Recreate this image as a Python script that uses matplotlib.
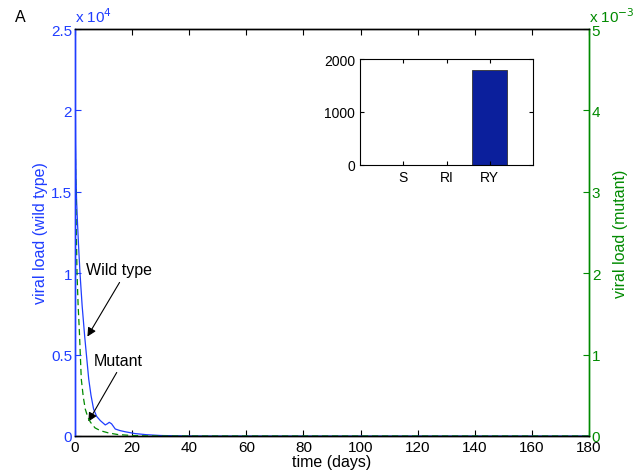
import matplotlib
matplotlib.use("Agg")
import matplotlib.pyplot as plt

plt.rcParams['font.family'] = ['Liberation Sans', 'DejaVu Sans']

# Wild type viral load (units of 1e4)
t_wild = [0, 0.1, 0.2, 0.35, 0.55, 0.9, 1.3, 1.75, 2.5, 3.4, 4.8, 5.6, 6.5, 7.6, 8.9, 10.6, 11.3, 12, 12.8, 14.1, 15.8, 17.6, 21, 25, 30, 35, 40, 50, 60, 180]
v_wild = [2.5, 2.1, 1.8, 1.6, 1.45, 1.3, 1.15, 1.0, 0.8, 0.61, 0.35, 0.25, 0.166, 0.12, 0.094, 0.068, 0.075, 0.084, 0.075, 0.043, 0.033, 0.026, 0.015, 0.008, 0.003, 0.0015, 0.0005, 0.0001, 0.0, 0.0]

# Mutant viral load (units of 1e-3)
t_mut = [0, 0.05, 0.1, 0.2, 0.3, 0.45, 0.7, 1.1, 1.5, 2.2, 2.9, 3.6, 4.5, 5.4, 7, 8.9, 11.8, 15, 20, 25, 30, 180]
v_mut = [5.0, 4.3, 3.7, 3.2, 2.85, 2.54, 2.01, 1.6, 1.31, 0.70, 0.48, 0.33, 0.23, 0.17, 0.1, 0.065, 0.037, 0.018, 0.006, 0.002, 0.0, 0.0]

# Inset bar chart
bar_labels = ['S', 'RI', 'RY']
bar_values = [8, 8, 1800]

x_ticks = [0, 20, 40, 60, 80, 100, 120, 140, 160, 180]
left_ticks = [0, 0.5, 1, 1.5, 2, 2.5]
right_ticks = [0, 1, 2, 3, 4, 5]

BLUE = '#1f3dff'
GREEN = '#008a00'
BARC = '#0b1f9c'
FS = 11
FL = 11.5

fig = plt.figure(figsize=(6.36, 4.77), dpi=100)
ax = fig.add_axes([75/636, 40/477, 514/636, 407/477])
ax2 = ax.twinx()

ax.plot(t_wild, v_wild, color=BLUE, lw=0.9)
ax2.plot(t_mut, v_mut, color=GREEN, lw=0.9, ls=(0, (5, 3)))

ax.set_xlim(0, 180)
ax.set_ylim(0, 2.5)
ax2.set_ylim(0, 5)
ax.set_xticks(x_ticks)
ax.set_yticks(left_ticks)
ax.set_yticklabels(['0', '0.5', '1', '1.5', '2', '2.5'])
ax2.set_yticks(right_ticks)

ax.tick_params(axis='x', direction='in', top=True, length=4, labelsize=FS, colors='black', pad=3)
ax.tick_params(axis='y', direction='in', length=4, labelsize=FS, colors=BLUE, pad=2)
ax2.tick_params(axis='y', direction='in', length=4, labelsize=FS, colors=GREEN, pad=2)

for a in (ax, ax2):
    a.spines['left'].set_color(BLUE)
    a.spines['right'].set_color(GREEN)
    a.spines['top'].set_color('black')
    a.spines['bottom'].set_color('black')
    for s in a.spines.values():
        s.set_linewidth(1.0)

ax.set_xlabel('time (days)', fontsize=FL, labelpad=0)
ax.set_ylabel('viral load (wild type)', fontsize=FL, color=BLUE, labelpad=2)
ax2.set_ylabel('viral load (mutant)', fontsize=FL, color=GREEN, labelpad=9)

ax.text(0.0, 1.017, r'x 10$^{4}$', transform=ax.transAxes, color=BLUE, fontsize=FS,
        ha='left', va='baseline')
ax.text(1.0, 1.017, r'x 10$^{-3}$', transform=ax.transAxes, color=GREEN, fontsize=FS,
        ha='left', va='baseline')

# annotations
ax.text(3.85, 1.02, 'Wild type', fontsize=FL, ha='left', va='center')
ax.annotate('', xy=(3.85, 0.596), xytext=(16.1, 0.958),
            arrowprops=dict(arrowstyle='-|>', color='k', lw=0.8, mutation_scale=13))
ax.text(6.4, 0.462, 'Mutant', fontsize=FL, ha='left', va='center')
ax.annotate('', xy=(4.2, 0.074), xytext=(15.1, 0.405),
            arrowprops=dict(arrowstyle='-|>', color='k', lw=0.8, mutation_scale=13))

fig.text(15/636, 1 - 17/477, 'A', fontsize=11.5, ha='left', va='center')

# inset
axi = fig.add_axes([360/636, (477-166)/477, 173/636, 106/477])
axi.bar([1, 2, 3], bar_values, width=0.8, color=BARC, edgecolor='#333333', linewidth=0.6)
axi.set_xlim(0, 4)
axi.set_ylim(0, 2000)
axi.set_xticks([1, 2, 3])
axi.set_xticklabels(bar_labels)
axi.set_yticks([0, 1000, 2000])
axi.tick_params(direction='in', top=True, right=True, length=3, labelsize=10)
for s in axi.spines.values():
    s.set_linewidth(0.8)

fig.savefig('out.png', dpi=100)
